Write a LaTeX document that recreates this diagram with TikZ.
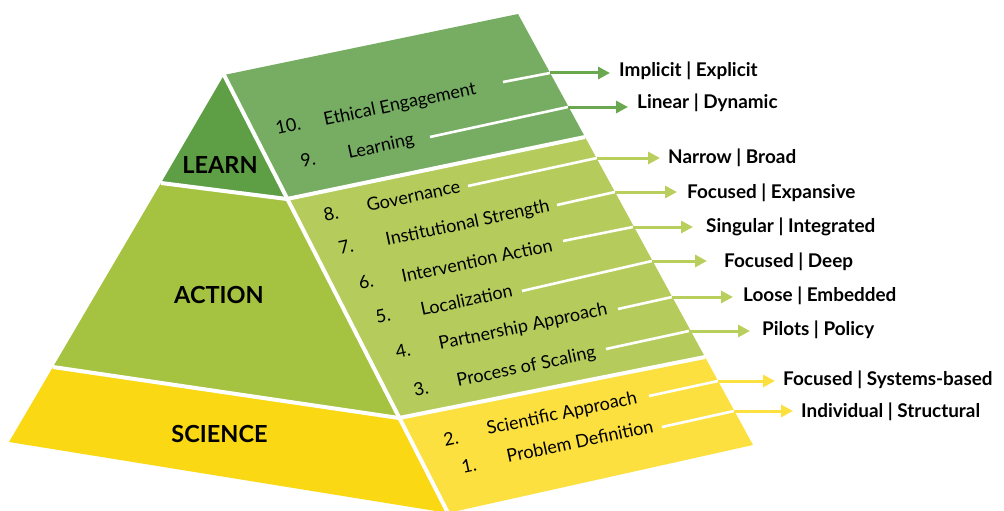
\documentclass[tikz,border=0pt]{standalone}
\usepackage{fontspec}
\setmainfont{Lato}
\usetikzlibrary{arrows.meta,calc}
\definecolor{learnL}{HTML}{5E9E44}
\definecolor{learnR}{HTML}{76AD62}
\definecolor{actionL}{HTML}{A5C240}
\definecolor{actionR}{HTML}{B5CC5C}
\definecolor{scienceL}{HTML}{FAD814}
\definecolor{scienceR}{HTML}{FCE040}
\definecolor{arrG}{HTML}{6AA84F}
\definecolor{arrL}{HTML}{B8CF5E}
\definecolor{arrY}{HTML}{FCE040}
\tikzset{
  facelabel/.style={font=\bfseries\fontsize{23.5}{26}\selectfont, inner sep=0pt},
  itemtxt/.style={font=\fontsize{18}{21}\selectfont, rotate=12, anchor=base west, inner sep=0pt},
  lbl/.style={font=\bfseries\fontsize{18.9}{22}\selectfont, anchor=base west, inner sep=0pt},
  divider/.style={white, line width=4pt},
  wline/.style={white, line width=2.6pt},
  arr/.style={line width=3pt, -{Triangle[length=12pt,width=12pt]}},
}
\begin{document}
\begin{tikzpicture}[x=1pt,y=-1pt]
\useasboundingbox (0,0) rectangle (1004,511);
\clip (0,0) rectangle (1004,511);
% corners
\coordinate (A) at (224,75);
\coordinate (T) at (518,14);
\coordinate (BL) at (9,442);
\coordinate (BV) at (448,513);
\coordinate (BR) at (753,445);
\coordinate (LL1) at (161,183);
\coordinate (RG1) at (287,199);
\coordinate (RR1) at (585,137);
\coordinate (LL2) at (53,367);
\coordinate (RG2) at (399,418);
\coordinate (RR2) at (705,357);
% faces
\fill[learnL] (A) -- (LL1) -- (RG1) -- cycle;
\fill[actionL] (LL1) -- (LL2) -- (RG2) -- (RG1) -- cycle;
\fill[scienceL] (LL2) -- (BL) -- (BV) -- (RG2) -- cycle;
\fill[learnR] (A) -- (T) -- (RR1) -- (RG1) -- cycle;
\fill[actionR] (RG1) -- (RR1) -- (RR2) -- (RG2) -- cycle;
\fill[scienceR] (RG2) -- (RR2) -- (BR) -- (BV) -- cycle;
% dividers
\draw[divider] (A) -- (BV);
\draw[divider] (LL1) -- (RG1) -- (RR1);
\draw[divider] (LL2) -- (RG2) -- (RR2);
% face labels
\node[facelabel] (learn) at (220,165.5) {LEARN};
\node[facelabel] (action) at (219,295) {ACTION};
\node[facelabel] (science) at (219.5,434) {SCIENCE};
% item numbers and texts
\node[itemtxt] (n10) at (277,135) {10.};
\node[itemtxt] (t10) at (325,126) {Ethical Engagement};
\node[itemtxt] (n9) at (302,168) {9.};
\node[itemtxt] (t9) at (349,159) {Learning};
\node[itemtxt] (n8) at (325,222) {8.};
\node[itemtxt] (t8) at (368,212) {Governance};
\node[itemtxt] (n7) at (340,255) {7.};
\node[itemtxt] (t7) at (387,246) {Institutional Strength};
\node[itemtxt] (n6) at (360,290) {6.};
\node[itemtxt] (t6) at (403,283) {Intervention Action};
\node[itemtxt] (n5) at (377,324) {5.};
\node[itemtxt] (t5) at (422,316) {Localization};
\node[itemtxt] (n4) at (397,359) {4.};
\node[itemtxt] (t4) at (440,350) {Partnership Approach};
\node[itemtxt] (n3) at (415,397) {3.};
\node[itemtxt] (t3) at (458,387) {Process of Scaling};
\node[itemtxt] (n2) at (445,447) {2.};
\node[itemtxt] (t2) at (488,435) {Scientific Approach};
\node[itemtxt] (n1) at (463,474) {1.};
\node[itemtxt] (t1) at (508,463) {Problem Definition};
% white line starts, edge points, arrow tips
\coordinate (s10) at (503,82);  \coordinate (e10) at (550,73);  \coordinate (p10) at (610,73);
\coordinate (s9) at (430,137);  \coordinate (e9) at (568,107);  \coordinate (p9) at (628,107);
\coordinate (s8) at (468,186);  \coordinate (e8) at (597,158);  \coordinate (p8) at (660,158);
\coordinate (s7) at (557,205);  \coordinate (e7) at (615,192);  \coordinate (p7) at (677,192);
\coordinate (s6) at (563,241);  \coordinate (e6) at (633,227);  \coordinate (p6) at (693,227);
\coordinate (s5) at (522,291);  \coordinate (e5) at (652,261);  \coordinate (p5) at (707,261);
\coordinate (s4) at (618,309);  \coordinate (e4) at (672,297);  \coordinate (p4) at (733,297);
\coordinate (s3) at (606,349);  \coordinate (e3) at (689,331);  \coordinate (p3) at (750,331);
\coordinate (s2) at (649,396);  \coordinate (e2) at (718,381);  \coordinate (p2) at (775,381);
\coordinate (s1) at (662,427);  \coordinate (e1) at (734,411);  \coordinate (p1) at (793,411);
\foreach \i in {1,...,10} {\draw[wline] (s\i) -- (e\i);}
\foreach \i in {9,10} {\draw[arr, arrG] (e\i) -- (p\i);}
\foreach \i in {3,...,8} {\draw[arr, arrL] (e\i) -- (p\i);}
\foreach \i in {1,2} {\draw[arr, arrY] (e\i) -- (p\i);}
% labels
\node[lbl] (l10) at (619,77) {Implicit | Explicit};
\node[lbl] (l9) at (637,108) {Linear | Dynamic};
\node[lbl] (l8) at (668,163) {Narrow | Broad};
\node[lbl] (l7) at (687,198) {Focused | Expansive};
\node[lbl] (l6) at (706,232) {Singular | Integrated};
\node[lbl] (l5) at (724,267) {Focused | Deep};
\node[lbl] (l4) at (743,301) {Loose | Embedded};
\node[lbl] (l3) at (762,335) {Pilots | Policy};
\node[lbl] (l2) at (783,385) {Focused | Systems-based};
\node[lbl] (l1) at (801,417) {Individual | Structural};
\end{tikzpicture}
\end{document}
